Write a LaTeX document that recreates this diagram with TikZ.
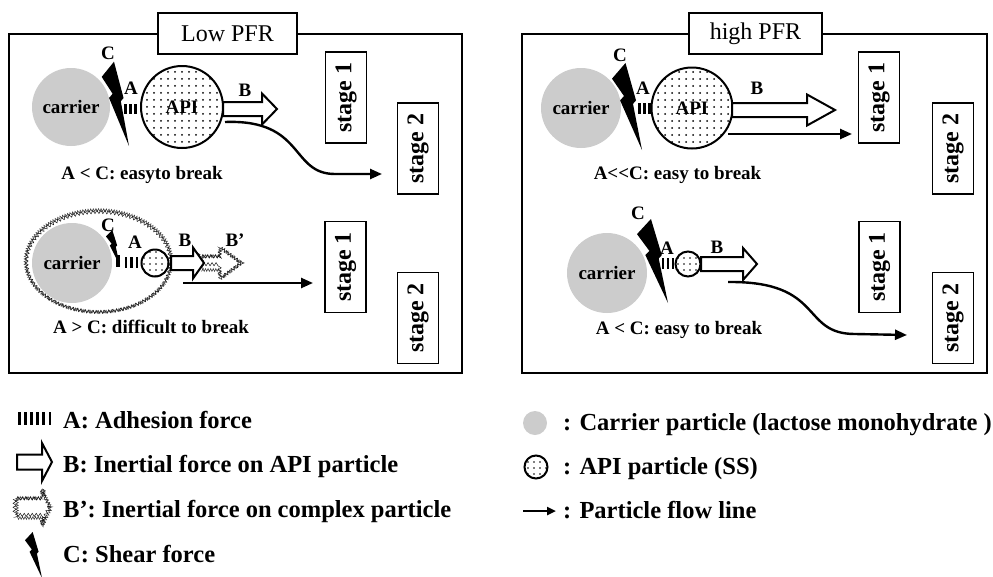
\documentclass[tikz,border=0pt]{standalone}
\usepackage{fontspec}
\setmainfont{Liberation Serif}
\usetikzlibrary{arrows.meta,patterns.meta,decorations.pathmorphing}
\newcommand{\hollowarr}[7][]{%
  \draw[#1] (#2,{#5-#6}) -- (#3,{#5-#6}) -- (#3,{#5-#7}) -- (#4,#5) -- (#3,{#5+#7}) -- (#3,{#5+#6}) -- (#2,{#5+#6}) -- cycle;}
\tikzset{
  boltshape/.pic={\fill[black] (0.45,0) -- (0,0.18) -- (0.40,0.38) -- (0.27,0.43) -- (1,1) -- (0.70,0.47) -- (0.80,0.43) -- cycle;},
  lbl/.style={font=\fontsize{19}{19}\selectfont\bfseries, inner sep=0, text height=12.5, text depth=0},
  note/.style={font=\fontsize{19}{19}\selectfont\bfseries, inner sep=0},
  leg/.style={font=\fontsize{24.5}{24.5}\selectfont\bfseries, anchor=west, inner sep=0, text height=16.5, text depth=0},
  frame/.style={draw, line width=2},
  titlebox/.style={draw, line width=2, fill=white, minimum height=41, font=\fontsize{24}{24}\selectfont, inner sep=0},
  stagebox/.style={draw, line width=1.3, rotate=90, font=\fontsize{24}{24}\selectfont\bfseries, minimum width=91, minimum height=41, inner sep=0},
  carrier/.style={circle, fill=black!20, inner sep=0, font=\fontsize{19}{19}\selectfont\bfseries},
  api/.style={circle, draw, line width=2, inner sep=0, pattern={Dots[distance=7pt, radius=1pt]}, font=\fontsize{19}{19}\selectfont\bfseries},
  hbar/.style={line width=2.4},
  flow/.style={line width=2.4, -{Triangle[length=12, width=10]}},
  blockarr/.style={draw, line width=2, fill=white},
  wavyA/.style={draw=black!75, line width=0.55, decorate, decoration={zigzag, segment length=2.6, amplitude=1.4}},
  wavyB/.style={draw=black!90, line width=0.5, decorate, decoration={snake, segment length=4, amplitude=1.6}},
}
\begin{document}
\begin{tikzpicture}[x=1pt, y=-1pt]
\useasboundingbox (0,0) rectangle (993,576);

% ================= LEFT PANEL (Low PFR) =================
\draw[frame] (9,34) rectangle (462,373);
\node[titlebox, minimum width=139] (t1) at (227.5,33.5) {Low PFR};
\node[stagebox] (s11) at (346,97.5) {stage 1};
\node[stagebox] (s12) at (418,148.5) {stage 2};
\node[stagebox] (s21) at (345.5,267) {stage 1};
\node[stagebox] (s22) at (418,318) {stage 2};

% top row
\node[carrier, minimum size=78] (c1) at (71,107) {carrier};
\node[api, minimum size=82] (p1) at (182,107) {API};
\pic[xscale=27.3, yscale=84.3] at (101.7,61.7) {boltshape};
\foreach \x in {125.5,130.5,135.5} \draw[hbar] (\x,104) -- (\x,114);
\node[lbl] (lc1) at (108,53) {C};
\node[lbl] (la1) at (131,88) {A};
\node[lbl] (lb1) at (245,90) {B};
\hollowarr[blockarr]{223}{262}{277}{109}{7}{15.5}
\coordinate (f1s) at (225,122);
\coordinate (f1e) at (382,174);
\draw[flow] (f1s) .. controls (305,119) and (290,174) .. (335,174) -- (f1e);
\node[note] (n1) at (142,175) {A < C: easyto break};

% bottom row
\draw[wavyA] (98.5,261) ellipse [x radius=73, y radius=51];
\draw[wavyB] (98.5,261) ellipse [x radius=72, y radius=50];
\node[carrier, minimum size=80] (c2) at (72,263) {carrier};
\node[api, minimum size=27, pattern={Dots[distance=6pt, radius=0.9pt]}] (p2) at (155,263) {};
\pic[xscale=14, yscale=36] at (106,230) {boltshape};
\draw[line width=4] (117.5,255) -- (117.5,267);
\foreach \x in {126,131.5,137} \draw[hbar] (\x,257) -- (\x,268);
\node[lbl] (lc2) at (108,225) {C};
\node[lbl] (la2) at (135,242) {A};
\node[lbl] (lb2) at (185,240) {B};
\node[lbl] (lb2p) at (235,240) {B'};
\hollowarr[wavyA]{202}{220}{241}{263}{7}{16}
\hollowarr[wavyB]{202}{220}{241}{263}{6.5}{15.5}
\hollowarr[blockarr]{171}{193}{204}{263}{7}{15.5}
\coordinate (f2s) at (183,283);
\coordinate (f2e) at (313,283);
\draw[flow] (f2s) -- (f2e);
\node[note] (n2) at (151,327) {A > C: difficult to break};

% ================= RIGHT PANEL (high PFR) =================
\draw[frame] (522,34) rectangle (987,373);
\node[titlebox, minimum width=133] (t2) at (755.5,33.5) {high PFR};
\node[stagebox] (s31) at (879,97.5) {stage 1};
\node[stagebox] (s32) at (953,148.5) {stage 2};
\node[stagebox] (s41) at (879.5,267) {stage 1};
\node[stagebox] (s42) at (953,318) {stage 2};

% top row
\node[carrier, minimum size=80] (c3) at (581,108) {carrier};
\node[api, minimum size=81] (p3) at (692,108) {API};
\pic[xscale=30, yscale=87] at (612,63) {boltshape};
\foreach \x in {639.5,644.5,649.5} \draw[hbar] (\x,103) -- (\x,114);
\node[lbl] (lc3) at (620,55) {C};
\node[lbl] (la3) at (643,88) {A};
\node[lbl] (lb3) at (757,88) {B};
\hollowarr[blockarr]{732}{807}{835}{110}{7}{15.5}
\coordinate (f3s) at (728,134);
\coordinate (f3e) at (852,134);
\draw[flow] (f3s) -- (f3e);
\node[note] (n3) at (677.5,175) {A<{}<C: easy to break};

% bottom row
\node[carrier, minimum size=80] (c4) at (607,273) {carrier};
\node[api, minimum size=25, pattern={Dots[distance=6pt, radius=0.9pt]}] (p4) at (688,264) {};
\pic[xscale=31, yscale=84] at (637,219) {boltshape};
\foreach \x in {663,668,673} \draw[hbar] (\x,258) -- (\x,269);
\node[lbl] (lc4) at (638,213) {C};
\node[lbl] (la4) at (667,248) {A};
\node[lbl] (lb4) at (717,247) {B};
\hollowarr[blockarr]{701}{743}{757}{264}{7}{16}
\coordinate (f4s) at (728,282);
\coordinate (f4e) at (907,335);
\draw[flow] (f4s) .. controls (825,281) and (800,334) .. (855,334) -- (f4e);
\node[note] (n4) at (679,330) {A < C: easy to break};

% ================= LEGEND =================
\foreach \x in {19.5,25.5,31.5,37.5,43.5} \draw[line width=2.6] (\x,412) -- (\x,425);
\draw[line width=1.4] (50,412) -- (50,425);
\node[leg] (g1) at (63,420) {A: Adhesion force};
\hollowarr[blockarr]{17}{42}{52}{462}{7.5}{19}
\node[leg] (g2) at (63,464) {B: Inertial force on API particle};
\hollowarr[wavyA]{17}{42}{51}{508}{10}{18}
\hollowarr[wavyB]{17}{42}{51}{508}{9.5}{17.5}
\node[leg] (g3) at (63,509) {B': Inertial force on complex particle};
\pic[xscale=17, yscale=46] at (25,532) {boltshape};
\node[leg] (g4) at (63,554) {C: Shear force};

\node[circle, fill=black!20, minimum size=24, inner sep=0] (g5i) at (535,423) {};
\node[leg] (g5) at (563,422) {: Carrier particle (lactose monohydrate )};
\node[circle, draw, line width=2, minimum size=23, inner sep=0, pattern={Dots[distance=6pt, radius=0.9pt]}] (g6i) at (536,467) {};
\node[leg] (g6) at (563,466) {: API particle (SS)};
\coordinate (g7s) at (523,511);
\coordinate (g7e) at (556,511);
\draw[line width=2.4, -{Triangle[length=9, width=8]}] (g7s) -- (g7e);
\node[leg] (g7) at (563,510) {: Particle flow line};
\end{tikzpicture}
\end{document}
